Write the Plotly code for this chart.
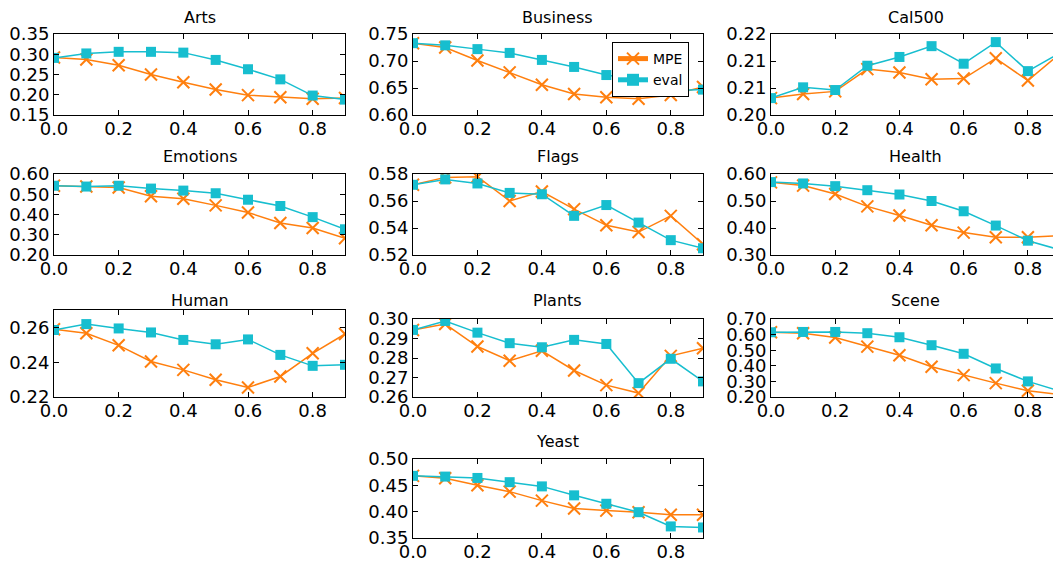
import plotly.graph_objects as go

x_vals = [0.0, 0.1, 0.2, 0.3, 0.4, 0.5, 0.6, 0.7, 0.8, 0.9]
x_ticks = [0.0, 0.2, 0.4, 0.6, 0.8]
x_ticklabels = ["0.0", "0.2", "0.4", "0.6", "0.8"]

datasets = ["Arts", "Business", "Cal500", "Emotions", "Flags", "Health",
            "Human", "Plants", "Scene", "Yeast"]

arts_mpe = [0.292, 0.287, 0.273, 0.250, 0.231, 0.213, 0.199, 0.194, 0.190, 0.192]
arts_eval = [0.291, 0.302, 0.306, 0.306, 0.304, 0.286, 0.263, 0.238, 0.198, 0.188]

business_mpe = [0.733, 0.725, 0.701, 0.679, 0.656, 0.639, 0.633, 0.630, 0.637, 0.652]
business_eval = [0.733, 0.729, 0.722, 0.715, 0.702, 0.689, 0.674, 0.665, 0.645, 0.647]

cal500_mpe = [0.2065, 0.2071, 0.2075, 0.2108, 0.2103, 0.2093, 0.2094, 0.2124, 0.2091, 0.2131]
cal500_eval = [0.2065, 0.2081, 0.2077, 0.2113, 0.2126, 0.2142, 0.2116, 0.2148, 0.2105, 0.2132]

emotions_mpe = [0.542, 0.538, 0.533, 0.490, 0.478, 0.445, 0.410, 0.358, 0.333, 0.283]
emotions_eval = [0.542, 0.538, 0.542, 0.528, 0.518, 0.505, 0.473, 0.442, 0.387, 0.327]

flags_mpe = [0.572, 0.5775, 0.578, 0.560, 0.567, 0.554, 0.542, 0.537, 0.549, 0.528]
flags_eval = [0.572, 0.576, 0.573, 0.566, 0.565, 0.549, 0.557, 0.544, 0.531, 0.525]

health_mpe = [0.569, 0.557, 0.526, 0.480, 0.446, 0.410, 0.383, 0.366, 0.366, 0.371]
health_eval = [0.570, 0.565, 0.555, 0.540, 0.524, 0.500, 0.462, 0.409, 0.353, 0.319]

human_mpe = [0.2589, 0.2566, 0.2497, 0.2404, 0.2356, 0.2299, 0.2255, 0.2318, 0.2451, 0.2562]
human_eval = [0.2585, 0.2619, 0.2594, 0.2571, 0.2528, 0.2503, 0.2531, 0.2442, 0.2379, 0.2385]

plants_mpe = [0.2944, 0.2974, 0.2859, 0.2786, 0.2837, 0.2736, 0.2661, 0.2620, 0.2811, 0.2850]
plants_eval = [0.2944, 0.2990, 0.2930, 0.2876, 0.2855, 0.2893, 0.2872, 0.2671, 0.2796, 0.2680]

scene_mpe = [0.615, 0.609, 0.581, 0.523, 0.468, 0.394, 0.340, 0.289, 0.240, 0.215]
scene_eval = [0.615, 0.617, 0.617, 0.609, 0.583, 0.532, 0.477, 0.383, 0.300, 0.238]

yeast_mpe = [0.468, 0.4634, 0.450, 0.438, 0.421, 0.406, 0.402, 0.399, 0.394, 0.394]
yeast_eval = [0.468, 0.4666, 0.464, 0.456, 0.448, 0.431, 0.415, 0.399, 0.372, 0.370]

mpe_series = [arts_mpe, business_mpe, cal500_mpe, emotions_mpe, flags_mpe,
              health_mpe, human_mpe, plants_mpe, scene_mpe, yeast_mpe]
eval_series = [arts_eval, business_eval, cal500_eval, emotions_eval, flags_eval,
               health_eval, human_eval, plants_eval, scene_eval, yeast_eval]

# y-axis ranges and ticks per dataset
y_ranges = [[0.15, 0.35], [0.60, 0.75], [0.204, 0.216], [0.20, 0.60], [0.52, 0.58],
            [0.30, 0.60], [0.22, 0.27], [0.26, 0.30], [0.20, 0.70], [0.35, 0.50]]
y_tickvals = [
    [0.15, 0.20, 0.25, 0.30, 0.35],
    [0.60, 0.65, 0.70, 0.75],
    [0.204, 0.208, 0.212, 0.216],
    [0.20, 0.30, 0.40, 0.50, 0.60],
    [0.52, 0.54, 0.56, 0.58],
    [0.30, 0.40, 0.50, 0.60],
    [0.22, 0.24, 0.26],
    [0.26, 0.27, 0.28, 0.29, 0.30],
    [0.20, 0.30, 0.40, 0.50, 0.60, 0.70],
    [0.35, 0.40, 0.45, 0.50],
]
cal500_ticklabels = ["0.20", "0.21", "0.21", "0.22"]

# the page body adds an 8px margin, so the figure is drawn 8px smaller and
# all target pixel positions are shifted by that offset
OFF = 8
W, H = 1061 - OFF, 561 - OFF
# pixel boxes (left, right, top, bottom) for each axes, in window pixels
boxes = [
    (54, 345, 34, 115), (413, 703, 34, 115), (771, 1060, 34, 115),
    (54, 345, 174, 255), (413, 703, 174, 255), (771, 1060, 174, 255),
    (54, 345, 310, 397), (413, 703, 319, 397), (771, 1060, 319, 397),
    (413, 703, 459, 538),
]
title_y = [18, 18, 18, 157, 157, 157, 300, 300, 300, 441]


def fx(px):
    return (px - OFF) / W


def fy(py):
    return 1 - (py - OFF) / H


ORANGE = "#ff7f0e"
CYAN = "#17becf"
FONT = "DejaVu Sans"

fig = go.Figure()
annotations = []
layout = {}

for i, name in enumerate(datasets):
    n = i + 1
    xa = "x" if n == 1 else f"x{n}"
    ya = "y" if n == 1 else f"y{n}"
    fig.add_trace(go.Scatter(
        x=x_vals, y=mpe_series[i], mode="lines+markers", name="MPE",
        xaxis=xa, yaxis=ya, showlegend=(name == "Business"),
        line=dict(color=ORANGE, width=1.5),
        marker=dict(symbol="x-thin", size=12, line=dict(color=ORANGE, width=2)),
    ))
    fig.add_trace(go.Scatter(
        x=x_vals, y=eval_series[i], mode="lines+markers", name="eval",
        xaxis=xa, yaxis=ya, showlegend=(name == "Business"),
        line=dict(color=CYAN, width=1.5),
        marker=dict(symbol="square", size=10, color=CYAN),
    ))
    l, r, t, b = boxes[i]
    common = dict(showgrid=False, zeroline=False, showline=True, linecolor="black",
                  linewidth=1, mirror="ticks", ticks="inside", ticklen=5,
                  tickcolor="black", automargin=False,
                  tickfont=dict(family=FONT, size=18, color="black"))
    layout["xaxis" if n == 1 else f"xaxis{n}"] = dict(
        domain=[fx(l), min(fx(r), 1.0)], range=[0, 0.9], anchor=ya,
        tickvals=x_ticks, ticktext=x_ticklabels, ticklabelstandoff=-3, **common)
    yk = dict(domain=[fy(b), fy(t)], range=y_ranges[i], anchor=xa,
              tickvals=y_tickvals[i], **common)
    if name == "Cal500":
        yk["ticktext"] = cal500_ticklabels
    else:
        yk["ticktext"] = [f"{v:.2f}" for v in y_tickvals[i]]
    layout["yaxis" if n == 1 else f"yaxis{n}"] = yk
    annotations.append(dict(
        text=name, x=fx((l + r) / 2), y=fy(title_y[i]), xref="paper", yref="paper",
        xanchor="center", yanchor="middle", showarrow=False, borderpad=0,
        font=dict(family=FONT, size=16, color="black")))

fig.update_layout(
    width=W, height=H, margin=dict(l=0, r=0, t=0, b=0, pad=0, autoexpand=False),
    plot_bgcolor="white", paper_bgcolor="white",
    annotations=annotations,
    legend=dict(x=fx(612), y=fy(42), xanchor="left", yanchor="top",
                bordercolor="black", borderwidth=1, bgcolor="white",
                font=dict(family=FONT, size=14, color="black"),
                tracegroupgap=0, itemsizing="constant"),
    **layout,
)

fig.write_html("out.html")
